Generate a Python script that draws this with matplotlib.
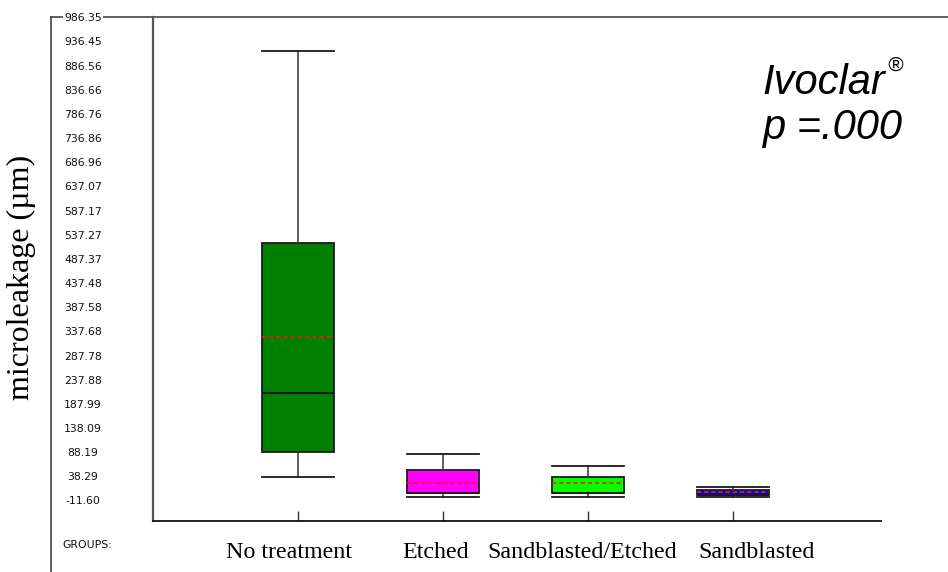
import matplotlib
matplotlib.use("Agg")
import matplotlib.pyplot as plt
from matplotlib.lines import Line2D

# ---- data -------------------------------------------------------------
groups = ["No treatment", "Etched", "Sandblasted/Etched", "Sandblasted"]
whisker_low = [37.6, -5.0, -5.0, -5.0]
q1 = [89.2, 4.5, 4.5, 0.4]
medians = [211.1, 4.5, 4.5, 0.4]
means = [326.2, 25.2, 25.2, 5.3]
q3 = [521.0, 52.1, 37.0, 10.1]
whisker_high = [917.1, 84.5, 59.7, 15.7]
box_colors = ["#008000", "#ff00ff", "#00ff00", "#0000ff"]

y_tick_labels = ["-11.60", "38.29", "88.19", "138.09", "187.99", "237.88",
                 "287.78", "337.68", "387.58", "437.48", "487.37", "537.27",
                 "587.17", "637.07", "686.96", "736.86", "786.76", "836.66",
                 "886.56", "936.45", "986.35"]

# ---- figure -----------------------------------------------------------
W, H = 948, 572
fig = plt.figure(figsize=(W / 100, H / 100), dpi=100)
fig.patch.set_facecolor("white")


def fx(px):
    return px / W


def fy(py):
    return 1 - py / H


ax_left, ax_right, ax_top, ax_bottom = 153, 881, 17.3, 521
ax = fig.add_axes([fx(ax_left), fy(ax_bottom), fx(ax_right - ax_left),
                   (ax_bottom - ax_top) / H])
ax.patch.set_alpha(0)

stats = []
for i, name in enumerate(groups):
    stats.append(dict(label=name, whislo=whisker_low[i], q1=q1[i],
                      med=medians[i], mean=means[i], q3=q3[i],
                      whishi=whisker_high[i], fliers=[]))

positions = list(range(1, len(groups) + 1))
bp = ax.bxp(stats, positions=positions, widths=0.5, capwidths=0.5,
            patch_artist=True, showmeans=True, meanline=True,
            boxprops=dict(edgecolor="#1a1a1a", linewidth=1.3),
            whiskerprops=dict(color="#333333", linewidth=1.1),
            capprops=dict(color="#1a1a1a", linewidth=1.3),
            medianprops=dict(color="#1a1a1a", linewidth=1.5),
            meanprops=dict(color="#ff1a00", linewidth=1.2,
                           linestyle=(0, (2.5, 1.8))))
for patch, c in zip(bp["boxes"], box_colors):
    patch.set_facecolor(c)

ax.set_xlim(0, (ax_right - ax_left) / 145)
ax.set_ylim(-53.96, 986.35)

# axes frame
for side in ("top", "right"):
    ax.spines[side].set_visible(False)
ax.spines["left"].set_color("#555555")
ax.spines["left"].set_linewidth(1.6)
ax.spines["bottom"].set_color("#111111")
ax.spines["bottom"].set_linewidth(1.3)

# y ticks: values printed beside the outer frame
ax.set_yticks([float(t) for t in y_tick_labels])
ax.set_yticklabels(y_tick_labels)
ax.tick_params(axis="y", length=0, pad=(ax_left - 83) * 0.72,
               labelsize=7.8, labelcolor="#111111")
for lab in ax.get_yticklabels():
    lab.set_horizontalalignment("center")
    lab.set_bbox(dict(facecolor="white", edgecolor="none", pad=0.5))

# x ticks: short marks pointing into the plot
ax.set_xticks(positions)
ax.set_xticklabels([""] * len(groups))
ax.tick_params(axis="x", direction="in", length=7.2, width=1.0,
               color="#333333")

# outer frame lines (drawn beneath the tick labels)
ax.add_artist(Line2D([fx(50.7), fx(50.7)], [fy(17.3), fy(572)],
                     transform=fig.transFigure, clip_on=False,
                     color="#444444", linewidth=1.2, zorder=1))
ax.add_artist(Line2D([fx(50.7), fx(948)], [fy(17.3), fy(17.3)],
                     transform=fig.transFigure, clip_on=False,
                     color="#444444", linewidth=1.2, zorder=1))

# group labels
label_x = [289, 436, 582, 757]
for name, x in zip(groups, label_x):
    fig.text(fx(x), fy(553), name, ha="center", va="center",
             family="Liberation Serif", fontsize=17.3, color="black")

fig.text(fx(87), fy(545), "GROUPS:", ha="center", va="center",
         family="DejaVu Sans", fontsize=7.8, color="#111111")

fig.text(fx(21), fy(277), "microleakage (\u00b5m)", rotation=90,
         ha="center", va="center", family="Liberation Serif",
         fontsize=23, color="black")

# annotation block
fig.text(fx(762), fy(94), "Ivoclar", ha="left", va="baseline",
         family="Liberation Sans", style="italic", fontsize=30)
fig.text(fx(887), fy(71), "\u00ae", ha="left", va="baseline",
         family="Liberation Sans", style="italic", fontsize=15)
fig.text(fx(762), fy(139), "p =.000", ha="left", va="baseline",
         family="Liberation Sans", style="italic", fontsize=30)

fig.savefig("out.png", dpi=100)
